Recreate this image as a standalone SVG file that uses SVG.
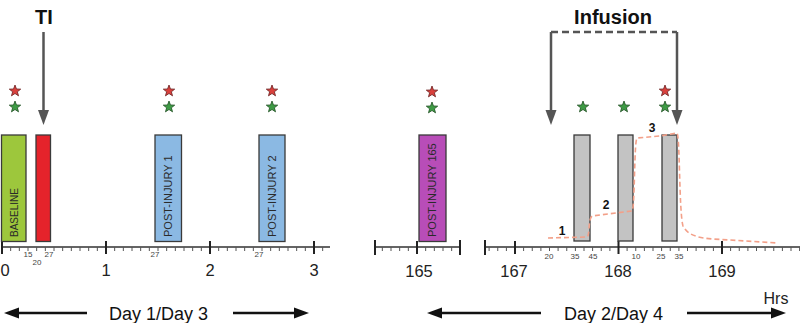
<svg xmlns="http://www.w3.org/2000/svg" width="800" height="323" viewBox="0 0 800 323">
<style>
.box{stroke:#3a3a3a;stroke-width:1.3}
.vt{font-family:"Liberation Sans",Arial,sans-serif;font-size:11px;fill:#2a2a2a}
.ax{stroke:#333;stroke-width:1.3;fill:none}
.maj{stroke:#222;stroke-width:2;fill:none}
.minr{stroke:#555;stroke-width:1;fill:none}
.lab{font-family:"Liberation Sans",Arial,sans-serif;font-size:16.5px;fill:#222;text-anchor:middle}
.sm{font-family:"Liberation Sans",Arial,sans-serif;font-size:8px;fill:#444;text-anchor:middle}
.ttl{font-family:"Liberation Sans",Arial,sans-serif;font-size:20px;font-weight:bold;fill:#111;text-anchor:middle}
.day{font-family:"Liberation Sans",Arial,sans-serif;font-size:18px;fill:#111}
.ga{stroke:#555;stroke-width:2.5;fill:none}
.bk{stroke:#111;stroke-width:2.5;fill:none}
.rs{fill:#d9403c;stroke:#6a2020;stroke-width:0.8}
.gs{fill:#3e9b45;stroke:#1f4f22;stroke-width:0.8}
</style>
<defs>
<path id="star" d="M0,-6 L1.47,-2.02 L5.71,-1.85 L2.38,0.77 L3.53,4.85 L0,2.5 L-3.53,4.85 L-2.38,0.77 L-5.71,-1.85 L-1.47,-2.02 Z"/>
</defs>

<!-- titles -->
<text class="ttl" x="44" y="24">TI</text>
<text class="ttl" x="613" y="24">Infusion</text>

<!-- axes -->
<g id="axes">
<path class="ax" d="M1,247 H330 M375,247 H460 M485,247 H800"/>
<path class="maj" d="M2,241 V254 M106,241 V254 M210,241 V254 M314,241 V254 M375,240 V255 M460,240 V255 M417,241 V254 M485,240 V255 M515,241 V254 M618.5,241 V254 M722,241 V254"/>
<path class="minr" d="M10.67,247v4 M19.33,247v4 M28,247v4 M36.67,247v4 M45.33,247v4 M54,247v4 M62.67,247v4 M71.33,247v4 M80,247v4 M88.67,247v4 M97.33,247v4 M114.67,247v4 M123.33,247v4 M132,247v4 M140.67,247v4 M149.33,247v4 M158,247v4 M166.67,247v4 M175.33,247v4 M184,247v4 M192.67,247v4 M201.33,247v4 M218.67,247v4 M227.33,247v4 M236,247v4 M244.67,247v4 M253.33,247v4 M262,247v4 M270.67,247v4 M279.33,247v4 M288,247v4 M296.67,247v4 M305.33,247v4 M322.67,247v4
M382.33,247v4 M391,247v4 M399.67,247v4 M408.33,247v4 M425.67,247v4 M434.33,247v4 M443,247v4 M451.67,247v4
M489.1,247v4 M497.75,247v4 M506.4,247v4 M523.6,247v4 M532.25,247v4 M540.9,247v4 M549.5,247v4 M558.1,247v4 M566.75,247v4 M575.4,247v4 M584,247v4 M592.6,247v4 M601.25,247v4 M609.9,247v4 M627.1,247v4 M635.75,247v4 M644.4,247v4 M653,247v4 M661.6,247v4 M670.25,247v4 M678.9,247v4 M687.5,247v4 M696.1,247v4 M704.75,247v4 M713.4,247v4 M730.6,247v4 M739.25,247v4 M747.9,247v4 M756.5,247v4 M765.1,247v4 M773.75,247v4 M782.4,247v4 M791,247v4 M799.6,247v4"/>
<text class="lab" x="5" y="276">0</text>
<text class="lab" x="106" y="276">1</text>
<text class="lab" x="210" y="276">2</text>
<text class="lab" x="314" y="276">3</text>
<text class="lab" x="419" y="277">165</text>
<text class="lab" x="514" y="277">167</text>
<text class="lab" x="618" y="277">168</text>
<text class="lab" x="722" y="277">169</text>
<text class="sm" x="28" y="257">15</text>
<text class="sm" x="37" y="265">20</text>
<text class="sm" x="49" y="257">27</text>
<text class="sm" x="155" y="257">27</text>
<text class="sm" x="259" y="257">27</text>
<text class="sm" x="549" y="259">20</text>
<text class="sm" x="575" y="259">35</text>
<text class="sm" x="593" y="259">45</text>
<text class="sm" x="636" y="259">10</text>
<text class="sm" x="661" y="259">25</text>
<text class="sm" x="679" y="259">35</text>
<text class="lab" x="776" y="304" style="font-size:16px">Hrs</text>
</g>

<!-- nodes -->
<g id="baseline">
<rect class="box" x="1.5" y="135" width="24.5" height="106.5" fill="#9dc73c"/>
<text class="vt" style="font-size:10px" transform="translate(17.5,237) rotate(-90)">BASELINE</text>
<use href="#star" class="rs" x="15" y="91"/>
<use href="#star" class="gs" x="15" y="107"/>
</g>
<g id="injury">
<rect class="box" x="36" y="135" width="14.5" height="106.5" fill="#e5232b"/>
</g>
<g id="post-injury-1">
<rect class="box" x="155" y="135" width="26.5" height="106.5" fill="#8bb9e3"/>
<text class="vt" transform="translate(172,237) rotate(-90)">POST-INJURY 1</text>
<use href="#star" class="rs" x="169" y="91"/>
<use href="#star" class="gs" x="169" y="107"/>
</g>
<g id="post-injury-2">
<rect class="box" x="259" y="135" width="26" height="106.5" fill="#8bb9e3"/>
<text class="vt" transform="translate(276,237) rotate(-90)">POST-INJURY 2</text>
<use href="#star" class="rs" x="272" y="91"/>
<use href="#star" class="gs" x="272" y="107"/>
</g>
<g id="post-injury-165">
<rect class="box" x="419" y="135" width="27" height="106.5" fill="#b84db8"/>
<text class="vt" transform="translate(436,237) rotate(-90)">POST-INJURY 165</text>
<use href="#star" class="rs" x="432" y="92"/>
<use href="#star" class="gs" x="432" y="108"/>
</g>
<g id="infusion-1">
<rect class="box" x="574" y="135" width="16" height="106" fill="#c3c3c3"/>
<use href="#star" class="gs" x="583" y="107"/>
</g>
<g id="infusion-2">
<rect class="box" x="618" y="135" width="15" height="106" fill="#c3c3c3"/>
<use href="#star" class="gs" x="624" y="107"/>
</g>
<g id="infusion-3">
<rect class="box" x="662" y="135" width="15" height="106" fill="#c3c3c3"/>
<use href="#star" class="rs" x="665" y="91"/>
<use href="#star" class="gs" x="665" y="107"/>
</g>

<!-- concentration curve -->
<g id="curve">
<path d="M548,238 L587,237 C590,236 588,219 592,216 L632,211 C635,210 634,141 637,138 L660,136 L677,133 C680,136 679,212 683,226 C688,236 700,238 713,239 L778,243" fill="none" stroke="#f3a089" stroke-width="1.6" stroke-dasharray="5,3"/>
<text x="562" y="235" style="font-family:'Liberation Sans',Arial,sans-serif;font-size:12px;font-weight:bold;fill:#111" text-anchor="middle">1</text>
<text x="606" y="209" style="font-family:'Liberation Sans',Arial,sans-serif;font-size:12px;font-weight:bold;fill:#111" text-anchor="middle">2</text>
<text x="652" y="132" style="font-family:'Liberation Sans',Arial,sans-serif;font-size:12px;font-weight:bold;fill:#111" text-anchor="middle">3</text>
</g>

<!-- connectors -->
<g id="connectors">
<path class="ga" d="M43.5,32 V112"/>
<polygon points="38,110 49,110 43.5,125" fill="#555"/>
<path class="ga" d="M551,32 V112 M677,32 V112"/>
<path class="ga" d="M551,32 H677" stroke-dasharray="7,4"/>
<polygon points="545.5,110 556.5,110 551,125" fill="#555"/>
<polygon points="671.5,110 682.5,110 677,125" fill="#555"/>
<path class="bk" d="M87,313 H17 M233,313 H296 M541,313 H440 M687,313 H773"/>
<polygon points="4,313 19,307.5 19,318.5" fill="#111"/>
<polygon points="309,313 294,307.5 294,318.5" fill="#111"/>
<polygon points="427,313 442,307.5 442,318.5" fill="#111"/>
<polygon points="786,313 771,307.5 771,318.5" fill="#111"/>
</g>
<text class="day" x="109" y="320">Day 1/Day 3</text>
<text class="day" x="564" y="320">Day 2/Day 4</text>
</svg>
